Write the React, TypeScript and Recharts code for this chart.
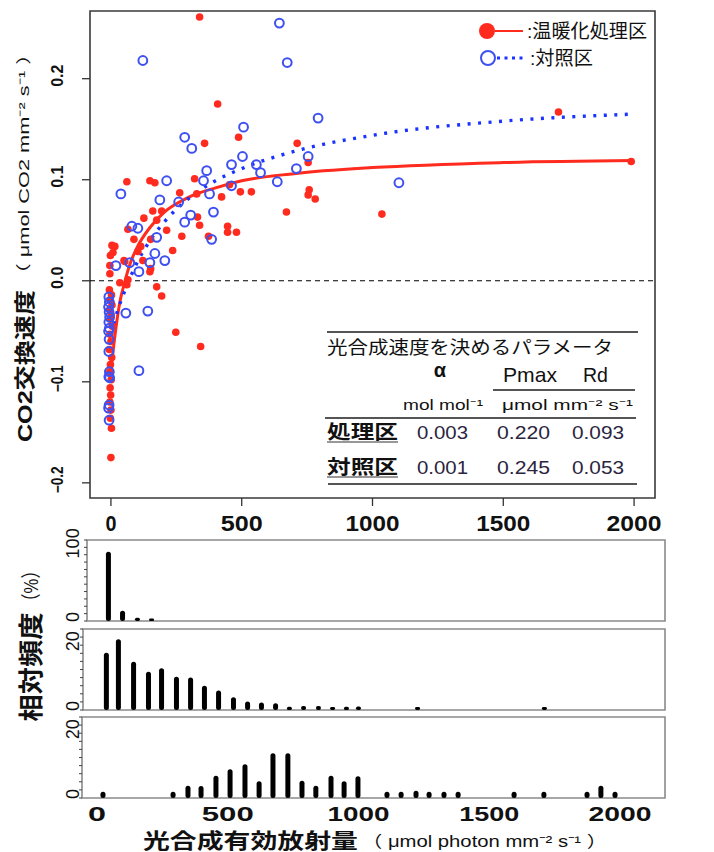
import React from 'react';
import {
  ComposedChart, Scatter, Line, XAxis, YAxis, ReferenceLine, ReferenceArea, Legend,
  BarChart, Bar,
} from 'recharts';

const NUM = "'Liberation Sans', Arial, 'Noto Sans CJK JP', sans-serif";
const JP = "'Liberation Sans', 'Noto Sans CJK JP', sans-serif";
const RED = '#ff2b1e';
const BLUE_PT = '#3f50f0';
const BLUE_LN = '#1a33ff';

// 温暖化処理区: [光合成有効放射量, CO2交換速度]
const warmPoints: [number, number][] = [
  [339, 0.261], [408, 0.175], [488, 0.142], [358, 0.136], [712, 0.136], [1711, 0.167],
  [1036, 0.066], [754, 0.117], [758, 0.090], [754, 0.085], [781, 0.081], [61, 0.098],
  [149, 0.099], [168, 0.097], [320, 0.101], [263, 0.087], [328, 0.086], [423, 0.083],
  [495, 0.088], [537, 0.088], [671, 0.068], [160, 0.069], [194, 0.069], [126, 0.062],
  [213, 0.050], [271, 0.044], [331, 0.063], [339, 0.055], [446, 0.054], [446, 0.048],
  [480, 0.048], [373, 0.044], [236, 0.030], [4, 0.035], [15, 0.034], [50, 0.020],
  [-4, 0.015], [-4, 0.007], [152, 0.012], [114, 0.034], [152, 0.041], [175, 0.060],
  [65, 0.051], [53, 0.019], [149, 0.009], [175, -0.006], [194, -0.015], [248, -0.051],
  [343, -0.065], [65, 0.001], [61, -0.004], [34, -0.002], [0, -0.175], [2, -0.146],
  [453, 0.095], [1989, 0.118], [122, 0.020], [103, 0.029], [88, 0.041], [-2, 0.025], [8, 0.028],
  [-6, -0.009], [2, -0.014], [-3, -0.019], [4, -0.024], [-5, -0.029], [1, -0.034],
  [-2, -0.038], [5, -0.045], [-4, -0.053], [0, -0.060], [-6, -0.068], [3, -0.076],
  [-2, -0.083], [-5, -0.090], [1, -0.098], [-3, -0.106], [-1, -0.113], [-4, -0.120],
  [0, -0.128], [-2, -0.136],
];

// 対照区
const controlPoints: [number, number][] = [
  [122, 0.218], [644, 0.255], [674, 0.216], [792, 0.161], [507, 0.152], [282, 0.142],
  [309, 0.131], [503, 0.123], [754, 0.123], [38, 0.086], [213, 0.099], [187, 0.080],
  [259, 0.078], [366, 0.109], [354, 0.099], [461, 0.115], [556, 0.115], [572, 0.107],
  [709, 0.111], [636, 0.098], [461, 0.094], [377, 0.086], [392, 0.068], [305, 0.065],
  [282, 0.058], [385, 0.041], [80, 0.054], [103, 0.052], [175, 0.043], [168, 0.027],
  [206, 0.020], [149, 0.018], [107, 0.009], [19, 0.015], [72, 0.018], [1101, 0.097],
  [57, -0.032], [141, -0.030], [107, -0.089],
  [-8, -0.016], [-6, -0.021], [-9, -0.026], [-7, -0.031], [-5, -0.036], [-8, -0.041],
  [-6, -0.047], [-9, -0.050], [-7, -0.058], [-8, -0.070], [-6, -0.090], [-8, -0.095],
  [-5, -0.096], [-7, -0.123], [-9, -0.126], [-7, -0.138],
];

// fitted light-response curves
const warmCurvePts: [number, number][] = [
  [0, -0.09], [5, -0.078], [10, -0.066], [20, -0.045], [35, -0.02], [50, -0.004],
  [75, 0.018], [100, 0.033], [150, 0.053], [200, 0.067], [300, 0.083], [400, 0.092],
  [500, 0.099], [700, 0.106], [1000, 0.112], [1500, 0.117], [2000, 0.119],
];
const controlCurvePts: [number, number][] = [
  [0, -0.053], [10, -0.043], [25, -0.03], [50, -0.012], [75, 0.004], [100, 0.018],
  [150, 0.04], [200, 0.057], [300, 0.082], [400, 0.099], [500, 0.111], [700, 0.128],
  [1000, 0.144], [1500, 0.158], [2000, 0.165],
];

const mainXTicks = [0, 500, 1000, 1500, 2000];
const mainYTicks = [-0.2, -0.1, 0, 0.1, 0.2];

// 相対頻度 histograms
const hist1Bins = [42, 96, 153, 207];
const hist1Vals = [94, 14, 4.5, 3.5];
const hist2Bins = [34, 80, 138, 195, 245, 302, 356, 409, 463, 520, 574, 627, 681, 734, 788, 845, 899, 952, 998, 1224, 1709];
const hist2Vals = [17.7, 21.8, 14.9, 11.8, 12.9, 10.3, 10.0, 7.5, 6.0, 3.9, 2.6, 2.3, 2.1, 1.0, 1.2, 1.2, 0.9, 1.0, 1.1, 0.9, 0.9];
const hist3Bins = [23, 291, 348, 398, 455, 509, 566, 620, 673, 730, 784, 837, 895, 945, 998, 1109, 1163, 1220, 1270, 1327, 1381, 1595, 1709, 1874, 1927, 1981];
const hist3Vals = [1.9, 1.9, 3.8, 3.7, 6.9, 8.9, 10.4, 5.2, 13.8, 13.8, 5.3, 3.8, 6.9, 5.2, 6.7, 1.9, 1.9, 2.2, 1.9, 1.9, 1.9, 1.9, 1.9, 1.9, 3.8, 1.9];
const hist1Ticks = [0, 10, 20, 30, 40, 50, 60, 70, 80, 90, 100, 110];
const hist23Ticks = [0, 2.5, 5, 7.5, 10, 12.5, 15, 17.5, 20, 22.5, 25];

const toXY = (a: [number, number][]) => a.map(([x, y]) => ({ x, y }));
const warm = toXY(warmPoints);
const control = toXY(controlPoints);
const warmCurve = toXY(warmCurvePts);
const controlCurve = toXY(controlCurvePts);
const mkHist = (b: number[], v: number[]) => b.map((bin, i) => ({ bin, freq: v[i] }));

const X_LEN: Record<number, number> = { 0: 11, 500: 42, 1000: 54, 1500: 54, 2000: 55 };
const HX_LEN: Record<number, number> = { 0: 18, 500: 52, 1000: 62, 1500: 60, 2000: 63 };

const MainXTick = (p: any) => (
  <text x={p.x} y={p.y + 25} textAnchor="middle" fontFamily={NUM} fontWeight="bold" fontSize={22}
    fill="#111" textLength={X_LEN[p.payload.value]} lengthAdjust="spacingAndGlyphs">
    {p.payload.value}
  </text>
);

const MainYTick = (p: any) => {
  const v = p.payload.value as number;
  const label = Math.abs(v) < 1e-9 ? '0.0' : v < 0 ? '\u2212' + Math.abs(v).toFixed(1) : v.toFixed(1);
  const cx = 58;
  const cy = p.y - 3;
  const extra: any = v < -1e-9 ? { textLength: 27, lengthAdjust: 'spacingAndGlyphs' } : {};
  return (
    <text x={cx} y={cy} transform={`rotate(-90 ${cx} ${cy})`} textAnchor="middle"
      dominantBaseline="central" fontFamily={NUM} fontWeight="bold" fontSize={16} fill="#111" {...extra}>
      {label}
    </text>
  );
};

const makeHistYTick = (labels: number[]) => (p: any) => {
  const v = p.payload.value as number;
  if (!labels.includes(v)) return <g />;
  const cx = 73;
  const cy = p.y - 4;
  return (
    <text x={cx} y={cy} transform={`rotate(-90 ${cx} ${cy})`} textAnchor="middle"
      dominantBaseline="central" fontFamily={NUM} fontSize={18} fill="#111">
      {v}
    </text>
  );
};

const HistXTick = (p: any) => (
  <text x={p.x} y={p.y + 23} textAnchor="middle" fontFamily={NUM} fontWeight="bold" fontSize={20}
    fill="#111" textLength={HX_LEN[p.payload.value]} lengthAdjust="spacingAndGlyphs">
    {p.payload.value}
  </text>
);

const LegendBox = () => (
  <svg width={180} height={60} style={{ display: 'block' }}>
    <line x1={19} y1={17} x2={47} y2={17} stroke={RED} strokeWidth={2} />
    <circle cx={11} cy={17} r={8} fill={RED} />
    <text x={51} y={24} fontFamily={JP} fontSize={19} fill="#111" textLength={120} lengthAdjust="spacingAndGlyphs">:温暖化処理区</text>
    <line x1={21} y1={44} x2={50} y2={44} stroke={BLUE_LN} strokeWidth={3.2} strokeDasharray="3 4.5" />
    <circle cx={12} cy={44} r={7} fill="#fff" stroke={BLUE_PT} strokeWidth={2} />
    <text x={54} y={51} fontFamily={JP} fontSize={19} fill="#111" textLength={63} lengthAdjust="spacingAndGlyphs">:対照区</text>
  </svg>
);

const Bar5 = (p: any) => {
  const { x, y, width, height } = p;
  if (!height || height <= 0) return <g />;
  const r = Math.min(2.5, height / 2);
  return <rect x={x} y={y} width={width} height={height} rx={r} ry={r} fill="#000" />;
};

const HIST_MT = 16;

interface HistProps {
  frameTop: number; left: number; frameH: number; data: any[]; domainY: [number, number];
  ticks: number[]; labels: number[]; showX?: boolean;
}
const Hist = ({ frameTop, left, frameH, data, domainY, ticks, labels, showX }: HistProps) => {
  const xMin = -((97 - left) / 0.2615);
  const mb = showX ? 0 : 2;
  const height = HIST_MT + frameH + mb + (showX ? 30 : 0);
  return (
    <div style={{ position: 'absolute', left: 0, top: frameTop - HIST_MT }}>
      <BarChart width={714} height={height} data={data}
        margin={{ top: HIST_MT, right: 49, bottom: mb, left: 0 }}>
        <XAxis type="number" dataKey="bin" domain={[xMin, 2172]} allowDataOverflow
          ticks={mainXTicks} interval={0} hide={!showX} height={30} axisLine={false}
          tickLine={false} tickSize={0} tickMargin={0} tick={<HistXTick />} />
        <YAxis type="number" domain={domainY} allowDataOverflow ticks={ticks} interval={0}
          width={left} axisLine={false} tickSize={3} tickMargin={0}
          tickLine={{ stroke: '#444', strokeWidth: 1 }} tick={makeHistYTick(labels)} />
        <ReferenceArea x1={xMin} x2={2172} y1={domainY[0]} y2={domainY[1]} fill="none"
          stroke="#8a8a8a" strokeWidth={1.6} ifOverflow="visible" />
        <Bar dataKey="freq" barSize={5} fill="#000" shape={<Bar5 />} isAnimationActive={false} />
      </BarChart>
    </div>
  );
};

export default function App() {
  return (
    <div style={{ position: 'absolute', left: 0, top: 0, width: 714, height: 852, background: '#fff', overflow: 'hidden' }}>
      <div style={{ position: 'absolute', left: 0, top: 0 }}>
        <ComposedChart width={714} height={540} margin={{ top: 11, right: 59, bottom: 0, left: 0 }}>
          <XAxis type="number" dataKey="x" domain={[-80, 2080]} allowDataOverflow ticks={mainXTicks}
            interval={0} height={42} axisLine={false} tickSize={8} tickMargin={0}
            tickLine={{ stroke: '#333', strokeWidth: 1.3 }} tick={<MainXTick />} />
          <YAxis type="number" dataKey="y" domain={[-0.215, 0.267]} allowDataOverflow ticks={mainYTicks}
            interval={0} width={90} axisLine={false} tickSize={8} tickMargin={0}
            tickLine={{ stroke: '#333', strokeWidth: 1.3 }} tick={<MainYTick />} />
          <ReferenceArea x1={-80} x2={2080} y1={-0.215} y2={0.267} fill="none" stroke="#3a3a3a"
            strokeWidth={1.6} ifOverflow="visible" />
          <ReferenceLine y={0} stroke="#000" strokeWidth={1.2} strokeDasharray="5 4" />
          <Scatter name="温暖化処理区" data={warm} isAnimationActive={false}
            shape={(p: any) => <circle cx={p.cx} cy={p.cy} r={3.8} fill={RED} />} />
          <Scatter name="対照区" data={control} isAnimationActive={false}
            shape={(p: any) => <circle cx={p.cx} cy={p.cy} r={4.4} fill="none" stroke={BLUE_PT} strokeWidth={2} />} />
          <Line data={warmCurve} dataKey="y" type="monotone" stroke={RED} strokeWidth={3}
            dot={false} isAnimationActive={false} legendType="none" />
          <Line data={controlCurve} dataKey="y" type="monotone" stroke={BLUE_LN} strokeWidth={3.4}
            strokeDasharray="3 7.5" dot={false} isAnimationActive={false} legendType="none" />
          <Legend layout="vertical" align="center" verticalAlign="middle" content={<LegendBox />}
            wrapperStyle={{ left: 476, top: 14, width: 180, height: 60 }} />
        </ComposedChart>
      </div>

      <Hist frameTop={540} left={87} frameH={81} data={mkHist(hist1Bins, hist1Vals)} domainY={[0, 110]}
        ticks={hist1Ticks} labels={[0, 100]} />
      <Hist frameTop={629} left={83} frameH={81} data={mkHist(hist2Bins, hist2Vals)} domainY={[0, 25]}
        ticks={hist23Ticks} labels={[0, 20]} />
      <Hist frameTop={717} left={82} frameH={81} data={mkHist(hist3Bins, hist3Vals)} domainY={[0, 25]}
        ticks={hist23Ticks} labels={[0, 20]} showX />

      <svg width={714} height={852} style={{ position: 'absolute', left: 0, top: 0, pointerEvents: 'none' }}>
        {/* parameter table */}
        <g stroke="#555" strokeWidth={2}>
          <line x1={327} y1={332} x2={638} y2={332} />
          <line x1={493} y1={390} x2={635} y2={390} />
          <line x1={325} y1={418} x2={636} y2={418} />
          <line x1={328} y1={484} x2={637} y2={484} />
        </g>
        <g stroke="#333" strokeWidth={1.2}>
          <line x1={327} y1={442} x2={398} y2={442} />
          <line x1={327} y1={477} x2={398} y2={477} />
        </g>
        <text x={327} y={354} fontFamily={JP} fontSize={18} fill="#111" textLength={286} lengthAdjust="spacingAndGlyphs">光合成速度を決めるパラメータ</text>
        <text x={440} y={377} textAnchor="middle" fontFamily={NUM} fontSize={20} fontWeight="bold" fill="#111">α</text>
        <text x={503} y={382} fontFamily={NUM} fontSize={21} fill="#111" textLength={54} lengthAdjust="spacingAndGlyphs">Pmax</text>
        <text x={583} y={382} fontFamily={NUM} fontSize={21} fill="#111" textLength={25} lengthAdjust="spacingAndGlyphs">Rd</text>
        <text x={403} y={410} fontFamily={NUM} fontSize={14} fill="#111" textLength={80} lengthAdjust="spacingAndGlyphs">mol mol⁻¹</text>
        <text x={502} y={410} fontFamily={NUM} fontSize={14} fill="#111" textLength={131} lengthAdjust="spacingAndGlyphs">μmol mm⁻² s⁻¹</text>
        <text x={327} y={439} fontFamily={JP} fontSize={19} fontWeight="bold" fill="#111" textLength={71} lengthAdjust="spacingAndGlyphs">処理区</text>
        <text x={327} y={474} fontFamily={JP} fontSize={19} fontWeight="bold" fill="#111" textLength={71} lengthAdjust="spacingAndGlyphs">対照区</text>
        <g fontFamily={NUM} fontSize={19} fill="#2b2540">
          <text x={417} y={439} textLength={51} lengthAdjust="spacingAndGlyphs">0.003</text>
          <text x={497} y={439} textLength={53} lengthAdjust="spacingAndGlyphs">0.220</text>
          <text x={572} y={439} textLength={52} lengthAdjust="spacingAndGlyphs">0.093</text>
          <text x={417} y={474} textLength={51} lengthAdjust="spacingAndGlyphs">0.001</text>
          <text x={497} y={474} textLength={53} lengthAdjust="spacingAndGlyphs">0.245</text>
          <text x={572} y={474} textLength={52} lengthAdjust="spacingAndGlyphs">0.053</text>
        </g>

        {/* main y title */}
        <text x={24} y={366} transform="rotate(-90 24 366)" textAnchor="middle" dominantBaseline="central"
          fontFamily={JP} fontWeight="bold" fontSize={21} fill="#111" textLength={152} lengthAdjust="spacingAndGlyphs">CO2交換速度</text>
        <text x={23} y={164} transform="rotate(-90 23 164)" textAnchor="middle" dominantBaseline="central"
          fontFamily={JP} fontSize={15} fill="#111" textLength={242} lengthAdjust="spacingAndGlyphs">（ μmol CO2 mm⁻² s⁻¹ ）</text>

        {/* histogram y title */}
        <text x={31} y={667} transform="rotate(-90 31 667)" textAnchor="middle" dominantBaseline="central"
          fontFamily={JP} fontWeight="bold" fontSize={25} fill="#111" textLength={109} lengthAdjust="spacingAndGlyphs">相対頻度</text>
        <text x={31} y={586} transform="rotate(-90 31 586)" textAnchor="middle" dominantBaseline="central"
          fontFamily={JP} fontSize={20} fill="#111" textLength={48} lengthAdjust="spacingAndGlyphs">（%）</text>

        {/* x title */}
        <text x={143} y={848} fontFamily={JP} fontWeight="bold" fontSize={21} fill="#111" textLength={215} lengthAdjust="spacingAndGlyphs">光合成有効放射量</text>
        <text x={362} y={847} fontFamily={JP} fontSize={16} fill="#111" textLength={245} lengthAdjust="spacingAndGlyphs">（ μmol photon mm⁻² s⁻¹ ）</text>
      </svg>
    </div>
  );
}
